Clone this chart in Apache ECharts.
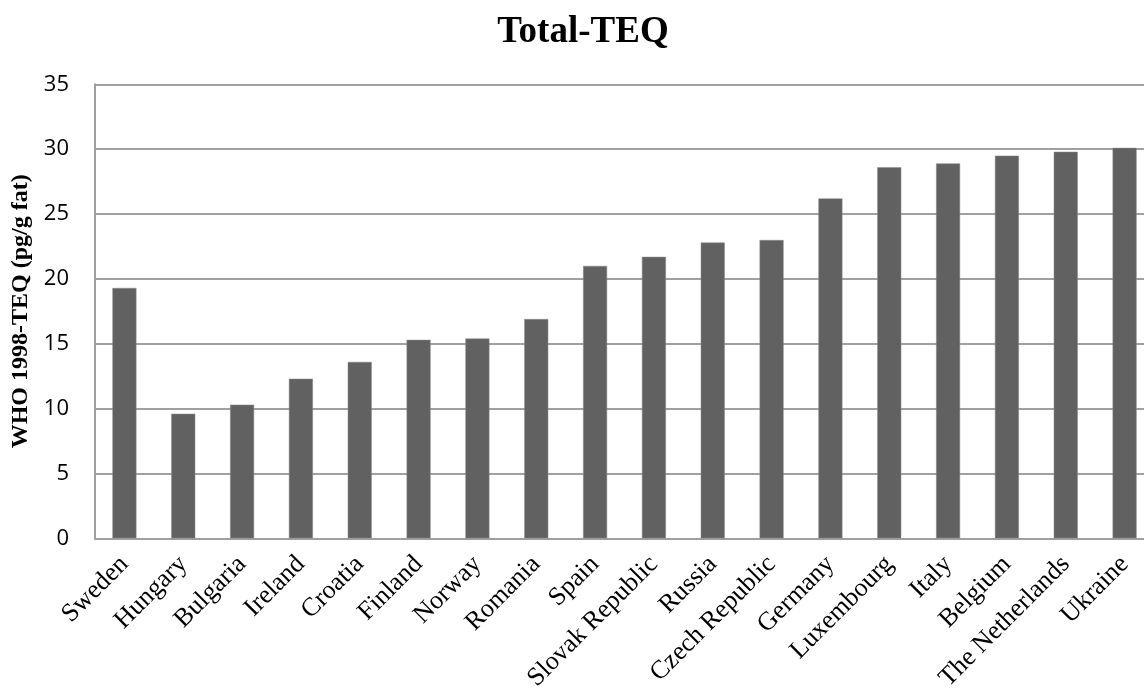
<!DOCTYPE html>
<html><head><meta charset="utf-8">
<script src="https://cdn.jsdelivr.net/npm/echarts@6/dist/echarts.min.js"></script>
<style>html,body{margin:0;padding:0;background:#fff}#c{width:1144px;height:693px}</style>
</head><body><div id="c"></div>
<script>
const categories = ["Sweden","Hungary","Bulgaria","Ireland","Croatia","Finland","Norway","Romania","Spain","Slovak Republic","Russia","Czech Republic","Germany","Luxembourg","Italy","Belgium","The Netherlands","Ukraine"];
const values = [19.3, 9.6, 10.3, 12.3, 13.6, 15.3, 15.4, 16.9, 21.0, 21.7, 22.8, 23.0, 26.2, 28.6, 28.9, 29.5, 29.8, 30.1];
const yTicks = {min: 0, max: 35, interval: 5};
const chart = echarts.init(document.getElementById('c'));
chart.setOption({
  animation: false,
  title: {text: "Total-TEQ", left: 578, top: 9, textAlign: 'center',
    textStyle: {fontFamily: 'Liberation Serif', fontWeight: 'bold', fontSize: 37, color: '#000'}},
  grid: {left: 95, right: -10, top: 84.3, bottom: 693 - 538.3, containLabel: false, outerBoundsMode: 'none'},
  xAxis: {type: 'category', data: categories,
    axisLine: {lineStyle: {color: '#a0a0a0', width: 2}},
    axisTick: {show: false},
    axisLabel: {rotate: 45, interval: 0, fontFamily: 'Liberation Serif', fontSize: 26, color: '#000', margin: 22}},
  yAxis: {type: 'value', min: yTicks.min, max: yTicks.max, interval: yTicks.interval,
    name: "WHO 1998-TEQ (pg/g fat)", nameLocation: 'middle', nameGap: 60,
    nameTextStyle: {fontFamily: 'Liberation Serif', fontWeight: 'bold', fontSize: 24, color: '#000'},
    axisLine: {show: true, lineStyle: {color: '#a0a0a0', width: 2}},
    axisTick: {show: false},
    splitLine: {lineStyle: {color: '#a0a0a0', width: 2}},
    axisLabel: {fontFamily: 'Open Sans', fontSize: 22, color: '#000', margin: 26}},
  series: [{type: 'bar', data: values, barWidth: 24,
    itemStyle: {color: '#616161', borderColor: '#8a8a8a', borderWidth: 0.5}}]
});
</script></body></html>
